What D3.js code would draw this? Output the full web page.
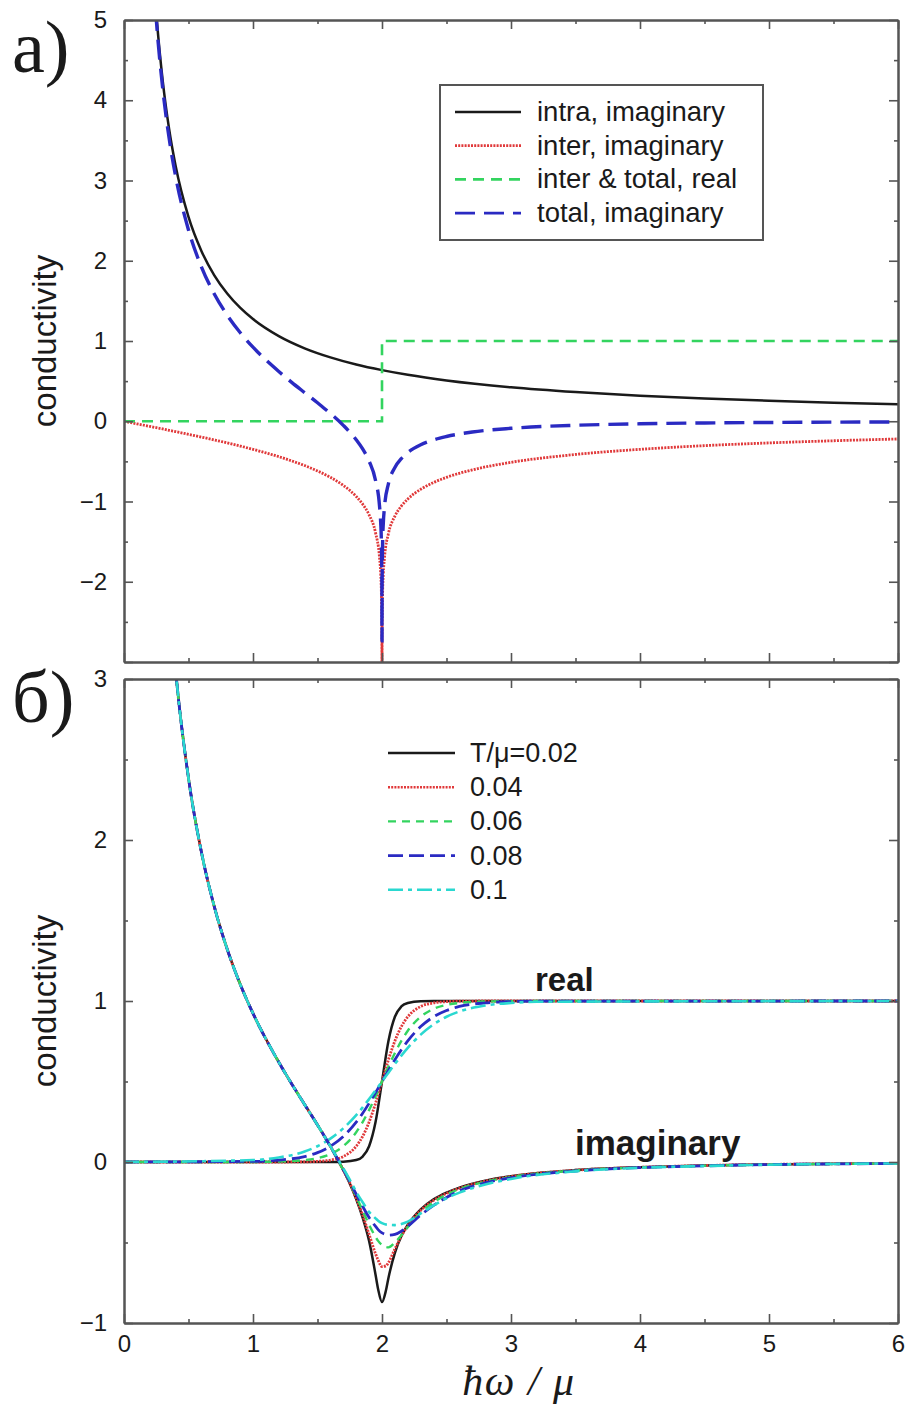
<!DOCTYPE html>
<html>
<head>
<meta charset="utf-8">
<script src="https://cdn.jsdelivr.net/npm/d3@7"></script>
<style>
  body { margin: 0; background: #fff; }
  svg { display: block; font-family: "Liberation Sans", Arial, sans-serif; }
  .axis .domain { stroke: #555; stroke-width: 2; }
  .axis .tick line { stroke: #555; stroke-width: 1.6; }
  .axis text { font-size: 24px; fill: #1a1a1a; font-family: "Liberation Sans", Arial, sans-serif; }
</style>
</head>
<body>
<div id="chart"></div>
<script>
// ---------- panel a) data ----------
var intraX = [0.2, 0.25, 0.3, 0.35, 0.4, 0.5, 0.6, 0.7, 0.8, 0.9, 1.0, 1.2, 1.4, 1.6, 1.8, 2.0, 2.2, 2.5, 3.0, 3.5, 4.0, 4.5, 5.0, 5.5, 6.0];
var intraIm = [6.366, 5.093, 4.244, 3.638, 3.183, 2.546, 2.122, 1.819, 1.592, 1.415, 1.273, 1.061, 0.909, 0.796, 0.707, 0.637, 0.579, 0.509, 0.424, 0.364, 0.318, 0.283, 0.255, 0.231, 0.212];

var interX = [0, 0.1, 0.2, 0.25, 0.3, 0.35, 0.4, 0.5, 0.6, 0.7, 0.8, 0.9, 1.0, 1.1, 1.2, 1.3, 1.4, 1.5, 1.6,
  1.7, 1.8, 1.85, 1.9, 1.95, 1.98, 1.99, 1.995, 1.999, 1.9999, 2.0001, 2.001, 2.005, 2.01, 2.02,
  2.05, 2.1, 2.15, 2.2, 2.3, 2.4, 2.5, 2.7, 3.0, 3.5, 4.0, 4.5, 5.0, 5.5, 6.0];
var interIm = [0, -0.032, -0.064, -0.080, -0.096, -0.113, -0.129, -0.163, -0.197, -0.233, -0.270, -0.309, -0.350, -0.394, -0.441, -0.494, -0.552, -0.619, -0.699,
  -0.800, -0.937, -1.033, -1.166, -1.391, -1.685, -1.906, -2.127, -2.640, -3.373, -3.373, -2.640, -2.128, -1.908, -1.688,
  -1.399, -1.182, -1.057, -0.969, -0.848, -0.763, -0.699, -0.606, -0.512, -0.414, -0.350, -0.304, -0.270, -0.243, -0.221];
var totalIm = [null, 12.70, 6.302, 5.013, 4.148, 3.525, 3.054, 2.384, 1.925, 1.586, 1.322, 1.106, 0.923, 0.764, 0.620, 0.485, 0.357, 0.230, 0.097,
  -0.051, -0.230, -0.345, -0.496, -0.738, -1.042, -1.266, -1.489, -2.003, -2.736, -2.736, -2.004, -1.493, -1.275, -1.058,
  -0.778, -0.576, -0.465, -0.390, -0.294, -0.232, -0.190, -0.134, -0.088, -0.050, -0.032, -0.021, -0.015, -0.011, -0.009];

var realX = [0, 2, 2, 6];
var realRe = [0, 0, 1, 1];

var legendA = ["intra, imaginary", "inter, imaginary", "inter & total, real", "total, imaginary"];

// ---------- panel б) data ----------
var tempLabels = ["T/\u03bc=0.02", "0.04", "0.06", "0.08", "0.1"];

var reX = [0, 1.0, 1.2, 1.4, 1.5, 1.6, 1.7, 1.8, 1.85, 1.9, 1.95, 2.0, 2.05, 2.1, 2.15, 2.2, 2.3, 2.4, 2.5, 2.6, 2.8, 3.0, 3.2, 6.0];
var re002 = [0, 0, 0, 0, 0, 0, 0.002, 0.012, 0.034, 0.098, 0.248, 0.5, 0.752, 0.902, 0.966, 0.988, 0.999, 1, 1, 1, 1, 1, 1, 1];
var re004 = [0, 0, 0, 0.001, 0.004, 0.012, 0.034, 0.098, 0.159, 0.248, 0.365, 0.5, 0.635, 0.752, 0.841, 0.902, 0.966, 0.988, 0.996, 0.999, 1, 1, 1, 1];
var re006 = [0, 0, 0.003, 0.012, 0.024, 0.049, 0.098, 0.185, 0.248, 0.323, 0.408, 0.5, 0.592, 0.677, 0.752, 0.815, 0.902, 0.951, 0.976, 0.988, 0.997, 0.999, 1, 1];
var re008 = [0, 0.004, 0.012, 0.034, 0.058, 0.098, 0.159, 0.248, 0.303, 0.365, 0.431, 0.5, 0.569, 0.635, 0.697, 0.752, 0.841, 0.902, 0.941, 0.966, 0.988, 0.996, 0.999, 1];
var re010 = [0, 0.012, 0.028, 0.065, 0.098, 0.145, 0.209, 0.291, 0.339, 0.391, 0.445, 0.5, 0.555, 0.609, 0.661, 0.709, 0.791, 0.855, 0.902, 0.935, 0.972, 0.988, 0.995, 1];

var imX = [0.35, 0.4, 0.5, 0.6, 0.7, 0.8, 0.9, 1.0, 1.1, 1.2, 1.3, 1.4, 1.5, 1.6,
  1.7, 1.75, 1.8, 1.85, 1.9, 1.95, 1.97, 2.0, 2.03, 2.05, 2.1, 2.15, 2.2, 2.3, 2.4, 2.5, 2.6, 2.8, 3.0,
  3.5, 4.0, 4.5, 5.0, 5.5, 6.0];
var im002 = [3.525, 3.054, 2.384, 1.925, 1.586, 1.322, 1.106, 0.923, 0.764, 0.620, 0.485, 0.357, 0.230, 0.097,
  -0.051, -0.134, -0.230, -0.345, -0.49, -0.70, -0.79, -0.87, -0.80, -0.72, -0.565, -0.46, -0.39, -0.294, -0.232, -0.190, -0.159, -0.116, -0.088,
  -0.050, -0.032, -0.021, -0.015, -0.011, -0.009];
var im004 = [3.525, 3.054, 2.384, 1.925, 1.586, 1.322, 1.106, 0.923, 0.764, 0.620, 0.485, 0.357, 0.230, 0.097,
  -0.05, -0.13, -0.225, -0.33, -0.45, -0.57, -0.61, -0.65, -0.645, -0.625, -0.54, -0.46, -0.395, -0.30, -0.238, -0.195, -0.163, -0.119, -0.090,
  -0.051, -0.033, -0.022, -0.015, -0.011, -0.009];
var im006 = [3.525, 3.054, 2.384, 1.925, 1.586, 1.322, 1.106, 0.923, 0.764, 0.620, 0.485, 0.357, 0.230, 0.097,
  -0.05, -0.125, -0.215, -0.30, -0.39, -0.465, -0.49, -0.515, -0.528, -0.53, -0.50, -0.455, -0.405, -0.315, -0.25, -0.203, -0.168, -0.123, -0.093,
  -0.053, -0.034, -0.023, -0.016, -0.012, -0.009];
var im008 = [3.525, 3.054, 2.384, 1.925, 1.586, 1.322, 1.106, 0.923, 0.764, 0.620, 0.485, 0.357, 0.230, 0.097,
  -0.045, -0.12, -0.20, -0.275, -0.345, -0.40, -0.42, -0.44, -0.45, -0.455, -0.45, -0.43, -0.40, -0.33, -0.27, -0.22, -0.18, -0.13, -0.098,
  -0.056, -0.035, -0.024, -0.016, -0.012, -0.009];
var im010 = [3.525, 3.054, 2.384, 1.925, 1.586, 1.322, 1.106, 0.923, 0.764, 0.620, 0.485, 0.357, 0.230, 0.097,
  -0.04, -0.11, -0.185, -0.25, -0.31, -0.35, -0.365, -0.38, -0.388, -0.39, -0.392, -0.385, -0.37, -0.32, -0.27, -0.225, -0.19, -0.14, -0.105,
  -0.058, -0.036, -0.025, -0.017, -0.012, -0.009];

// ---------- sizing ----------
var svgWidth = 909;
var svgHeight = 1409;
var left = 124, right = 898;

var svg = d3.select("#chart")
  .append("svg")
  .attr("width", svgWidth)
  .attr("height", svgHeight);

var x = d3.scaleLinear().domain([0, 6]).range([left, right]);
var yTop = d3.scaleLinear().domain([-3, 5]).range([662, 20]);
var yBot = d3.scaleLinear().domain([-1, 3]).range([1323, 679]);

// clip paths for the two panels
var defs = svg.append("defs");
[["clipA", yTop], ["clipB", yBot]].forEach(function(c) {
  var r = c[1].range();
  defs.append("clipPath").attr("id", c[0])
    .append("rect")
    .attr("x", left).attr("y", r[1])
    .attr("width", right - left).attr("height", r[0] - r[1]);
});

function makeLine(xs, ys, yScale, curve) {
  return d3.line()
    .defined(function(d, i) { return ys[i] != null; })
    .x(function(d, i) { return x(xs[i]); })
    .y(function(d, i) { return yScale(ys[i]); })
    .curve(curve || d3.curveMonotoneX)(xs);
}

var styles = {
  black: { stroke: "#1a1a1a", dash: null, width: 2.5 },
  red:   { stroke: "#e0393a", dash: "2,1.2", width: 2.8 },
  green: { stroke: "#33d45f", dash: "11,7", width: 2.6 },
  blue:  { stroke: "#2a2ac2", dash: "20,9", width: 3.4 },
  green2:{ stroke: "#33d45f", dash: "8,6", width: 2.4 },
  blue2: { stroke: "#2a2ac2", dash: "15,6", width: 2.8 },
  cyan:  { stroke: "#2ad8d0", dash: "15,5,4,5", width: 2.6 }
};

function drawPath(g, d, st) {
  g.append("path")
    .attr("d", d)
    .attr("fill", "none")
    .attr("stroke", st.stroke)
    .attr("stroke-width", st.width)
    .attr("stroke-dasharray", st.dash);
}

// ---------- panel a) curves ----------
var gA = svg.append("g").attr("clip-path", "url(#clipA)");
drawPath(gA, makeLine(intraX, intraIm, yTop), styles.black);
drawPath(gA, makeLine(interX, interIm, yTop), styles.red);
drawPath(gA, makeLine(realX, realRe, yTop, d3.curveLinear), styles.green);
drawPath(gA, makeLine(interX, totalIm, yTop), styles.blue);

// ---------- panel б) curves ----------
var gB = svg.append("g").attr("clip-path", "url(#clipB)");
var reSeries = [re002, re004, re006, re008, re010];
var imSeries = [im002, im004, im006, im008, im010];
var tStyles = [styles.black, styles.red, styles.green2, styles.blue2, styles.cyan];
reSeries.forEach(function(s, i) { drawPath(gB, makeLine(reX, s, yBot), tStyles[i]); });
imSeries.forEach(function(s, i) { drawPath(gB, makeLine(imX, s, yBot), tStyles[i]); });

// ---------- axes (inward ticks on all four sides) ----------
var fmt = d3.format("d");
function panelAxes(y, yMajor, yMinor, yLabelSkip, xLabels) {
  var yb = y.range()[0], yt = y.range()[1];
  var xMajor = d3.range(0, 7, 1);
  var xMinor = d3.range(0.5, 6, 1);

  svg.append("g").attr("class", "axis").attr("transform", `translate(${left},0)`)
    .call(d3.axisLeft(y).tickValues(yMinor).tickSize(-4).tickSizeOuter(0).tickFormat(""));
  svg.append("g").attr("class", "axis").attr("transform", `translate(${left},0)`)
    .call(d3.axisLeft(y).tickValues(yMajor).tickSize(-9).tickSizeOuter(0).tickPadding(17)
      .tickFormat(function(d) { return d === yLabelSkip ? "" : fmt(d); }));

  svg.append("g").attr("class", "axis").attr("transform", `translate(${right},0)`)
    .call(d3.axisRight(y).tickValues(yMinor).tickSize(-4).tickSizeOuter(0).tickFormat(""));
  svg.append("g").attr("class", "axis").attr("transform", `translate(${right},0)`)
    .call(d3.axisRight(y).tickValues(yMajor).tickSize(-9).tickSizeOuter(0).tickFormat(""));

  svg.append("g").attr("class", "axis").attr("transform", `translate(0,${yt})`)
    .call(d3.axisTop(x).tickValues(xMinor).tickSize(-4).tickSizeOuter(0).tickFormat(""));
  svg.append("g").attr("class", "axis").attr("transform", `translate(0,${yt})`)
    .call(d3.axisTop(x).tickValues(xMajor).tickSize(-9).tickSizeOuter(0).tickFormat(""));

  svg.append("g").attr("class", "axis").attr("transform", `translate(0,${yb})`)
    .call(d3.axisBottom(x).tickValues(xMinor).tickSize(-4).tickSizeOuter(0).tickFormat(""));
  svg.append("g").attr("class", "axis").attr("transform", `translate(0,${yb})`)
    .call(d3.axisBottom(x).tickValues(xMajor).tickSize(-9).tickSizeOuter(0).tickPadding(12)
      .tickFormat(xLabels ? fmt : ""));
}
panelAxes(yTop, d3.range(-3, 6, 1), d3.range(-2.5, 5, 1), -3, false);
panelAxes(yBot, d3.range(-1, 4, 1), d3.range(-0.5, 3, 1), null, true);

// ---------- axis titles & panel labels ----------
[yTop, yBot].forEach(function(y) {
  var mid = (y.range()[0] + y.range()[1]) / 2;
  svg.append("text")
    .attr("transform", `translate(56, ${mid}) rotate(-90)`)
    .attr("text-anchor", "middle")
    .style("font-size", "33px")
    .style("fill", "#1a1a1a")
    .text("conductivity");
});

svg.append("text")
  .attr("x", (left + right) / 2 + 8)
  .attr("y", 1395)
  .attr("text-anchor", "middle")
  .style("font-family", "'Liberation Serif', 'Times New Roman', serif")
  .style("font-style", "italic")
  .style("font-size", "42px")
  .style("letter-spacing", "1.5px")
  .style("fill", "#1a1a1a")
  .text("\u0127\u03c9 / \u03bc");

svg.append("text").attr("x", 12).attr("y", 72)
  .style("font-family", "'Liberation Serif', 'Times New Roman', serif")
  .style("font-size", "74px").style("fill", "#1a1a1a").text("a)");
svg.append("text").attr("x", 12).attr("y", 722)
  .style("font-family", "'Liberation Serif', 'Times New Roman', serif")
  .style("font-size", "74px").style("fill", "#1a1a1a").text("\u0431)");

// ---------- legend, panel a) ----------
var legA = svg.append("g");
legA.append("rect")
  .attr("x", 440).attr("y", 85).attr("width", 323).attr("height", 155)
  .attr("fill", "#fff").attr("stroke", "#555").attr("stroke-width", 2);
var legAStyles = [styles.black, styles.red, styles.green, styles.blue];
legendA.forEach(function(lbl, i) {
  var yy = 112 + i * 33.7;
  legA.append("line")
    .attr("x1", 455).attr("x2", 521).attr("y1", yy).attr("y2", yy)
    .attr("stroke", legAStyles[i].stroke)
    .attr("stroke-width", Math.min(legAStyles[i].width, 2.8))
    .attr("stroke-dasharray", legAStyles[i].dash);
  legA.append("text")
    .attr("x", 537).attr("y", yy + 9)
    .style("font-size", "27.5px").style("fill", "#1a1a1a")
    .text(lbl);
});

// ---------- legend, panel б) ----------
var legB = svg.append("g");
tempLabels.forEach(function(lbl, i) {
  var yy = 753 + i * 34.2;
  legB.append("line")
    .attr("x1", 388).attr("x2", 455).attr("y1", yy).attr("y2", yy)
    .attr("stroke", tStyles[i].stroke)
    .attr("stroke-width", Math.min(tStyles[i].width, 2.6))
    .attr("stroke-dasharray", tStyles[i].dash);
  legB.append("text")
    .attr("x", 470).attr("y", yy + 9)
    .style("font-size", "27px").style("fill", "#1a1a1a")
    .text(lbl);
});

// curve annotations
svg.append("text").attr("x", 535).attr("y", 991)
  .style("font-size", "33px").style("font-weight", "bold").style("fill", "#1a1a1a")
  .text("real");
svg.append("text").attr("x", 575).attr("y", 1155)
  .style("font-size", "35px").style("font-weight", "bold").style("fill", "#1a1a1a")
  .text("imaginary");
</script>
</body>
</html>
